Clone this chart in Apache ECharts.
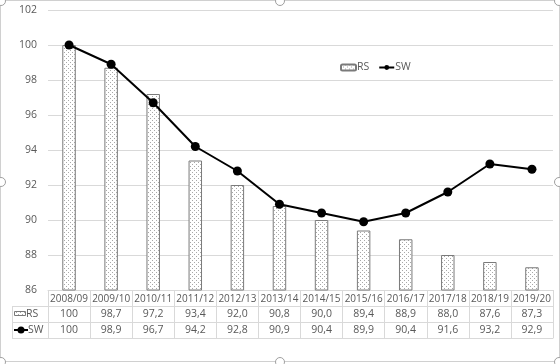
<!DOCTYPE html>
<html><head><meta charset="utf-8">
<script src="https://cdn.jsdelivr.net/npm/echarts@6/dist/echarts.min.js"></script>
<style>html,body{margin:0;padding:0;background:#fff}#c{width:560px;height:364px}</style>
</head><body><div id="c"></div>
<script>
const categories = ['2008/09','2009/10','2010/11','2011/12','2012/13','2013/14','2014/15','2015/16','2016/17','2017/18','2018/19','2019/20'];
const rsValues = [100, 98.7, 97.2, 93.4, 92.0, 90.8, 90.0, 89.4, 88.9, 88.0, 87.6, 87.3];
const swValues = [100, 98.9, 96.7, 94.2, 92.8, 90.9, 90.4, 89.9, 90.4, 91.6, 93.2, 92.9];
const yMin = 86, yMax = 102, yStep = 2;

const FONT = 'Open Sans';
const FS = 10.5;
const TXT = '#595959';
const LINE = '#d9d9d9';

// dotted pattern fill
const pc = document.createElement('canvas');
pc.width = 4; pc.height = 4;
const px = pc.getContext('2d');
px.fillStyle = '#ffffff'; px.fillRect(0,0,4,4);
px.fillStyle = '#a8a8a8';
px.fillRect(0,0,1,1); px.fillRect(2,2,1,1);
const pattern = {image: pc, repeat: 'repeat'};

function fmt(v){
  if (v === 100) return '100';
  return v.toFixed(1).replace('.', ',');
}

const GL = 48, GR = 7, GT = 10, GB = 74;
const W = 560, H = 364;
const axisY = H - GB;       // 290
const rowH = 16;
const tableBottom = axisY + rowH * 3; // 338
const tableLeft = 12;

const chart = echarts.init(document.getElementById('c'), null, {renderer:'canvas'});

const catAxisBase = {
  type: 'category', data: categories, position: 'bottom', gridIndex: 0,
  axisLine: {show: true, lineStyle: {color: LINE, width: 1}},
  axisTick: {show: false},
  splitLine: {show: false}
};

const handles = [[1,1],[280,1],[559,1],[1,182],[559,182],[1,362],[280,362],[559,362]];

chart.setOption({
  animation: false,
  backgroundColor: '#ffffff',
  textStyle: {fontFamily: FONT},
  grid: {left: GL, right: GR, top: GT, bottom: GB},
  legend: {
    left: 335, top: 57,
    itemWidth: 15, itemHeight: 6, itemGap: 9,
    textStyle: {color: TXT, fontSize: FS, fontFamily: FONT, padding: [0, 0, 0, -4]},
    data: ['RS', 'SW']
  },
  xAxis: [
    Object.assign({}, catAxisBase, {
      axisTick: {show: true, length: rowH * 3, lineStyle: {color: LINE}},
      axisLabel: {color: TXT, fontSize: 10, fontFamily: FONT, margin: 4, interval: 0}
    }),
    Object.assign({}, catAxisBase, {
      offset: rowH,
      axisLabel: {color: TXT, fontSize: FS, fontFamily: FONT, margin: 3, interval: 0,
        formatter: (v, i) => fmt(rsValues[i])}
    }),
    Object.assign({}, catAxisBase, {
      offset: rowH * 2,
      axisLabel: {color: TXT, fontSize: FS, fontFamily: FONT, margin: 3, interval: 0,
        formatter: (v, i) => fmt(swValues[i])}
    }),
    Object.assign({}, catAxisBase, {
      offset: rowH * 3,
      axisLabel: {show: false}
    })
  ],
  yAxis: {
    type: 'value', min: yMin, max: yMax, interval: yStep,
    axisLine: {show: false}, axisTick: {show: false},
    axisLabel: {color: TXT, fontSize: FS, fontFamily: FONT, margin: 11},
    splitLine: {lineStyle: {color: LINE, width: 1}}
  },
  series: [
    {
      name: 'RS', type: 'bar', data: rsValues, barWidth: '32%',
      itemStyle: {color: pattern, borderColor: '#7a7a7a', borderWidth: 1}
    },
    {
      name: 'SW', type: 'line', data: swValues, z: 5,
      symbol: 'circle', symbolSize: 9,
      lineStyle: {color: '#000', width: 2},
      itemStyle: {color: '#000'}
    }
  ],
  graphic: [
    // chart border
    {type: 'rect', shape: {x: 0.5, y: 0.5, width: W - 1, height: 361}, style: {fill: null, stroke: '#d0d0d0', lineWidth: 1}, silent: true, z: 0},
    // legend column of data table
    {type: 'line', shape: {x1: tableLeft, y1: axisY + rowH + 0.5, x2: GL, y2: axisY + rowH + 0.5}, style: {stroke: LINE, lineWidth: 1}},
    {type: 'line', shape: {x1: tableLeft, y1: axisY + rowH * 2 + 0.5, x2: GL, y2: axisY + rowH * 2 + 0.5}, style: {stroke: LINE, lineWidth: 1}},
    {type: 'line', shape: {x1: tableLeft, y1: tableBottom + 0.5, x2: GL, y2: tableBottom + 0.5}, style: {stroke: LINE, lineWidth: 1}},
    {type: 'line', shape: {x1: tableLeft + 0.5, y1: axisY + rowH, x2: tableLeft + 0.5, y2: tableBottom}, style: {stroke: LINE, lineWidth: 1}},
    // RS key
    {type: 'rect', shape: {x: 14.5, y: axisY + rowH + 5.5, width: 11, height: 4}, style: {fill: pattern, stroke: '#7a7a7a', lineWidth: 1}},
    {type: 'text', x: 26, y: axisY + rowH + 8, style: {text: 'RS', fill: TXT, font: FS + 'px "Open Sans"', verticalAlign: 'middle'}},
    // SW key
    {type: 'line', shape: {x1: 14, y1: axisY + rowH * 2 + 8, x2: 28, y2: axisY + rowH * 2 + 8}, style: {stroke: '#000', lineWidth: 2}},
    {type: 'circle', shape: {cx: 21, cy: axisY + rowH * 2 + 8, r: 3.5}, style: {fill: '#000'}},
    {type: 'text', x: 28, y: axisY + rowH * 2 + 8, style: {text: 'SW', fill: TXT, font: FS + 'px "Open Sans"', verticalAlign: 'middle'}}
  ].concat(handles.map(h => ({
    type: 'circle', shape: {cx: h[0], cy: h[1], r: 4.5}, z: 100,
    style: {fill: '#ffffff', stroke: '#a0a0a0', lineWidth: 1}
  })))
});
</script></body></html>
